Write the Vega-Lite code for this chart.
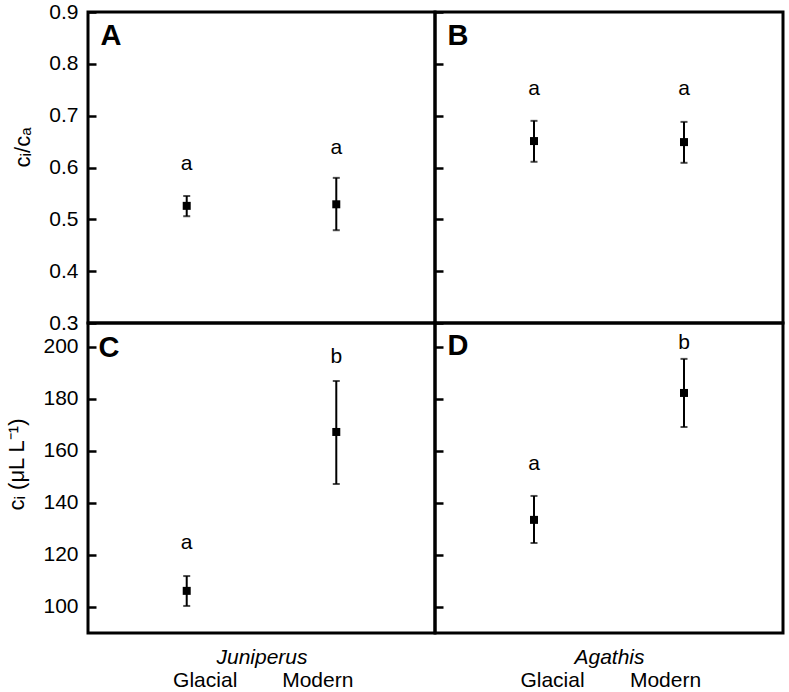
{
  "$schema": "https://vega.github.io/schema/vega-lite/v6.json",
  "background": "white",
  "padding": {"left": 4, "top": -1, "right": 5, "bottom": 5},
  "bounds": "flush",
  "spacing": 0,
  "columns": 2,
  "datasets": {
    "d": [
      {"panel": "A", "cond": "Glacial", "mean": 0.526, "lo": 0.506, "hi": 0.545, "sig": "a", "sigAt": 0.607},
      {"panel": "A", "cond": "Modern", "mean": 0.529, "lo": 0.479, "hi": 0.580, "sig": "a", "sigAt": 0.638},
      {"panel": "B", "cond": "Glacial", "mean": 0.651, "lo": 0.611, "hi": 0.690, "sig": "a", "sigAt": 0.751},
      {"panel": "B", "cond": "Modern", "mean": 0.649, "lo": 0.609, "hi": 0.688, "sig": "a", "sigAt": 0.751},
      {"panel": "C", "cond": "Glacial", "mean": 106.2, "lo": 100.4, "hi": 111.9, "sig": "a", "sigAt": 124.6},
      {"panel": "C", "cond": "Modern", "mean": 167.3, "lo": 147.3, "hi": 186.9, "sig": "b", "sigAt": 196.2},
      {"panel": "D", "cond": "Glacial", "mean": 133.5, "lo": 124.6, "hi": 142.7, "sig": "a", "sigAt": 155.0},
      {"panel": "D", "cond": "Modern", "mean": 182.3, "lo": 169.2, "hi": 195.4, "sig": "b", "sigAt": 201.5}
    ]
  },
  "concat": [
    {
      "width": 347, "height": 311,
      "data": {"name": "d"},
      "transform": [{"filter": "datum.panel == 'A'"}],
      "encoding": {
        "x": {"field": "cond", "type": "nominal", "scale": {"type": "point", "domain": ["Glacial", "Modern"], "padding": 0.66},
          "axis": {"orient": "top", "title": "A", "labels": false, "ticks": false, "titleX": 12, "titleY": 32, "titleAlign": "left", "titleAnchor": "start", "titleBaseline": "alphabetic", "titleFontSize": 29, "titleFontWeight": "bold"}}
      },
      "layer": [
        {"mark": {"type": "rule", "color": "black", "strokeWidth": 2},
         "encoding": {
           "y": {"field": "lo", "type": "quantitative", "scale": {"domain": [0.3, 0.9], "nice": false, "zero": false},
           "axis": {"title": "cᵢ/cₐ", "values": [0.3, 0.4, 0.5, 0.6, 0.7, 0.8, 0.9], "format": ".1f", "titleY": 135}}, "y2": {"field": "hi"}}},
        {"mark": {"type": "tick", "color": "black", "thickness": 2, "size": 7}, "encoding": {"y": {"field": "hi", "type": "quantitative"}}},
        {"mark": {"type": "tick", "color": "black", "thickness": 2, "size": 7}, "encoding": {"y": {"field": "lo", "type": "quantitative"}}},
        {"mark": {"type": "square", "color": "black", "filled": true, "opacity": 1, "size": 64}, "encoding": {"y": {"field": "mean", "type": "quantitative"}}},
        {"mark": {"type": "text", "color": "black", "fontSize": 21, "font": "Liberation Sans", "baseline": "middle"}, "encoding": {"y": {"field": "sigAt", "type": "quantitative"}, "text": {"field": "sig"}}}
      ]
    },
    {
      "width": 348, "height": 311,
      "data": {"name": "d"},
      "transform": [{"filter": "datum.panel == 'B'"}],
      "encoding": {
        "x": {"field": "cond", "type": "nominal", "scale": {"type": "point", "domain": ["Glacial", "Modern"], "padding": 0.66},
          "axis": {"orient": "top", "title": "B", "labels": false, "ticks": false, "titleX": 12, "titleY": 32, "titleAlign": "left", "titleAnchor": "start", "titleBaseline": "alphabetic", "titleFontSize": 29, "titleFontWeight": "bold"}}
      },
      "layer": [
        {"mark": {"type": "rule", "color": "black", "strokeWidth": 2},
         "encoding": {
           "y": {"field": "lo", "type": "quantitative", "scale": {"domain": [0.3, 0.9], "nice": false, "zero": false},
           "axis": {"title": null, "labels": false, "values": [0.3, 0.4, 0.5, 0.6, 0.7, 0.8, 0.9]}}, "y2": {"field": "hi"}}},
        {"mark": {"type": "tick", "color": "black", "thickness": 2, "size": 7}, "encoding": {"y": {"field": "hi", "type": "quantitative"}}},
        {"mark": {"type": "tick", "color": "black", "thickness": 2, "size": 7}, "encoding": {"y": {"field": "lo", "type": "quantitative"}}},
        {"mark": {"type": "square", "color": "black", "filled": true, "opacity": 1, "size": 64}, "encoding": {"y": {"field": "mean", "type": "quantitative"}}},
        {"mark": {"type": "text", "color": "black", "fontSize": 21, "font": "Liberation Sans", "baseline": "middle"}, "encoding": {"y": {"field": "sigAt", "type": "quantitative"}, "text": {"field": "sig"}}}
      ]
    },
    {
      "width": 347, "height": 310,
      "data": {"name": "d"},
      "transform": [{"filter": "datum.panel == 'C'"}],
      "layer": [
        {"mark": {"type": "rule", "color": "black", "strokeWidth": 2},
         "encoding": {
           "x": {"field": "cond", "type": "nominal", "scale": {"type": "point", "domain": ["Glacial", "Modern"], "padding": 0.66},
             "axis": {"orient": "top", "title": "C", "labels": false, "ticks": false, "titleX": 10, "titleY": 33, "titleAlign": "left", "titleAnchor": "start", "titleBaseline": "alphabetic", "titleFontSize": 29, "titleFontWeight": "bold"}},
           "y": {"field": "lo", "type": "quantitative", "scale": {"domain": [90, 209.2], "nice": false, "zero": false},
           "axis": {"title": "cᵢ (μL L⁻¹)", "values": [100, 120, 140, 160, 180, 200], "titleY": 141}}, "y2": {"field": "hi"}}},
        {"mark": {"type": "tick", "color": "black", "thickness": 2, "size": 7}, "encoding": {"x": {"field": "cond", "type": "nominal", "axis": null}, "y": {"field": "hi", "type": "quantitative"}}},
        {"mark": {"type": "tick", "color": "black", "thickness": 2, "size": 7}, "encoding": {"x": {"field": "cond", "type": "nominal", "axis": null}, "y": {"field": "lo", "type": "quantitative"}}},
        {"mark": {"type": "square", "color": "black", "filled": true, "opacity": 1, "size": 64}, "encoding": {"x": {"field": "cond", "type": "nominal", "axis": null}, "y": {"field": "mean", "type": "quantitative"}}},
        {"mark": {"type": "text", "color": "black", "fontSize": 21, "font": "Liberation Sans", "baseline": "middle"}, "encoding": {
          "x": {"field": "cond", "type": "nominal",
            "axis": {"orient": "bottom", "title": "Juniperus", "titleFontStyle": "italic", "titleFontSize": 21, "titleY": 13, "titleBaseline": "top", "ticks": false, "labelAngle": 0, "labelPadding": 36, "labelBaseline": "top",
              "labelOffset": {"condition": {"test": "datum.value == 'Glacial'", "value": 18}, "value": -19}}},
          "y": {"field": "sigAt", "type": "quantitative"}, "text": {"field": "sig"}}}
      ]
    },
    {
      "width": 348, "height": 310,
      "data": {"name": "d"},
      "transform": [{"filter": "datum.panel == 'D'"}],
      "layer": [
        {"mark": {"type": "rule", "color": "black", "strokeWidth": 2},
         "encoding": {
           "x": {"field": "cond", "type": "nominal", "scale": {"type": "point", "domain": ["Glacial", "Modern"], "padding": 0.66},
             "axis": {"orient": "top", "title": "D", "labels": false, "ticks": false, "titleX": 12, "titleY": 31, "titleAlign": "left", "titleAnchor": "start", "titleBaseline": "alphabetic", "titleFontSize": 29, "titleFontWeight": "bold"}},
           "y": {"field": "lo", "type": "quantitative", "scale": {"domain": [90, 209.2], "nice": false, "zero": false},
           "axis": {"title": null, "labels": false, "values": [100, 120, 140, 160, 180, 200]}}, "y2": {"field": "hi"}}},
        {"mark": {"type": "tick", "color": "black", "thickness": 2, "size": 7}, "encoding": {"x": {"field": "cond", "type": "nominal", "axis": null}, "y": {"field": "hi", "type": "quantitative"}}},
        {"mark": {"type": "tick", "color": "black", "thickness": 2, "size": 7}, "encoding": {"x": {"field": "cond", "type": "nominal", "axis": null}, "y": {"field": "lo", "type": "quantitative"}}},
        {"mark": {"type": "square", "color": "black", "filled": true, "opacity": 1, "size": 64}, "encoding": {"x": {"field": "cond", "type": "nominal", "axis": null}, "y": {"field": "mean", "type": "quantitative"}}},
        {"mark": {"type": "text", "color": "black", "fontSize": 21, "font": "Liberation Sans", "baseline": "middle"}, "encoding": {
          "x": {"field": "cond", "type": "nominal",
            "axis": {"orient": "bottom", "title": "Agathis", "titleFontStyle": "italic", "titleFontSize": 21, "titleY": 13, "titleBaseline": "top", "ticks": false, "labelAngle": 0, "labelPadding": 36, "labelBaseline": "top",
              "labelOffset": {"condition": {"test": "datum.value == 'Glacial'", "value": 18}, "value": -19}}},
          "y": {"field": "sigAt", "type": "quantitative"}, "text": {"field": "sig"}}}
      ]
    }
  ],
  "config": {
    "view": {"stroke": "black", "strokeWidth": 3},
    "axis": {"domain": false, "grid": false, "labelFont": "Liberation Sans", "labelFontSize": 21, "labelColor": "black",
      "titleFont": "Liberation Sans", "titleFontSize": 22, "titleFontWeight": "normal", "titleColor": "black",
      "tickColor": "black", "tickWidth": 2.5, "tickSize": -8, "labelPadding": 18, "titlePadding": 14}
  }
}
